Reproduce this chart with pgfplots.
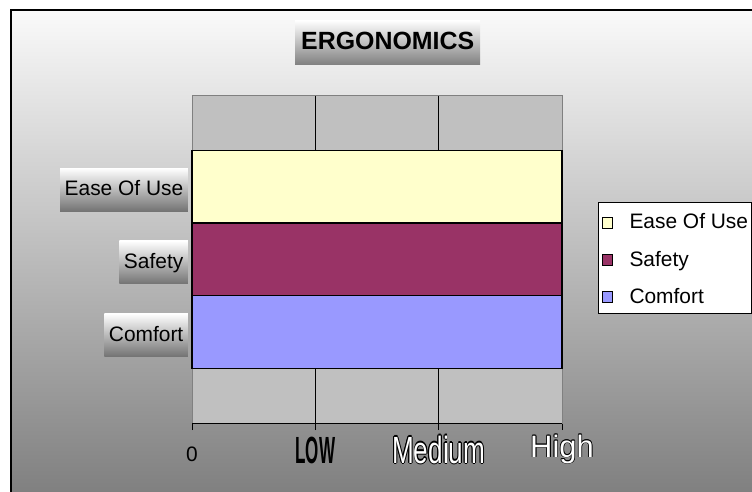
\documentclass[border=0pt]{standalone}
\usepackage{fontspec}
\setmainfont{Liberation Sans}
\usepackage{graphicx}
\usepackage{pgfplots}
\pgfplotsset{compat=1.18}
\definecolor{easec}{HTML}{FFFFCC}
\definecolor{safec}{HTML}{993366}
\definecolor{comfc}{HTML}{9999FF}
\definecolor{plotbg}{HTML}{C0C0C0}
\definecolor{bordc}{HTML}{808080}
\newcommand\olcopy[3]{\rlap{\raisebox{#2}{\kern#1\textcolor{black}{#3}}}}
% #1 fill colour, #2 straight offset, #3 diagonal offset, #4 text
\newcommand\outl[4][white]{\leavevmode
  \olcopy{#2}{0bp}{#4}\olcopy{-#2}{0bp}{#4}%
  \olcopy{0bp}{#2}{#4}\olcopy{0bp}{-#2}{#4}%
  \olcopy{#3}{#3}{#4}\olcopy{-#3}{#3}{#4}%
  \olcopy{#3}{-#3}{#4}\olcopy{-#3}{-#3}{#4}%
  \textcolor{#1}{#4}}
\pgfplotsset{
  legsq/.style={legend image code/.code={\draw[##1,draw=black,line width=1bp] (0bp,-7bp) rectangle (10bp,3bp);}},
  hbar/.style={xbar, bar width=1, bar shift=0pt, draw=black, line width=1.5bp, legsq},
}
\begin{document}
\begin{tikzpicture}
\useasboundingbox (0,0) rectangle (752bp,-492bp);
\fill[white] (0,0) rectangle (752bp,-492bp);
\shade[top color=white!98!black, bottom color=bordc] (11bp,-10bp) rectangle (752bp,-492bp);
\draw[black, line width=1.2bp] (11bp,-492bp) -- (11bp,-10bp) -- (752bp,-10bp);
\node[anchor=north west, top color=white, bottom color=bordc, inner xsep=6bp, inner ysep=0bp,
      text height=29.7bp, text depth=14.7bp, font=\fontsize{25}{30}\selectfont\bfseries]
      at (295bp,-20bp) {ERGONOMICS};
\begin{axis}[
  scale only axis,
  width=370bp, height=328bp,
  anchor=south west, at={(192bp,-423bp)},
  xmin=0, xmax=3, ymin=-1.25, ymax=3.26,
  clip=false,
  axis background/.style={fill=plotbg},
  axis line style={draw=bordc, line width=1bp},
  xmajorgrids, major grid style={black, line width=0.8bp},
  xtick={0,1,2,3},
  xticklabels={{\raisebox{2bp}{\fontsize{21}{25}\selectfont 0}},
               {\scalebox{0.45}[1]{\fontsize{38}{40}\selectfont\bfseries LOW}},
               {\scalebox{0.69}[1]{\outl{1.2bp}{0.85bp}{\fontsize{38}{40}\selectfont Medium}}},
               {\raisebox{6bp}{\outl{0.8bp}{0.56bp}{\fontsize{31}{35}\selectfont High}}}},
  xtick pos=bottom, tick align=outside, major tick length=7bp,
  xtick style={black, line width=0.8bp},
  xticklabel style={anchor=base, yshift=-33bp},
  ytick={0,1,2}, yticklabels={Comfort,Safety,Ease Of Use},
  ytick style={draw=none}, ytick pos=left,
  yticklabel style={anchor=east, xshift=3bp, yshift=-3bp, font=\fontsize{21}{25}\selectfont,
      top color=white, bottom color=bordc!90!black, inner xsep=4.5bp, inner ysep=0bp,
      text height=27.7bp, text depth=15.3bp},
  legend style={at={(1.0973,0.6738)}, anchor=north west, draw=black, line width=1bp, fill=white,
      font=\fontsize{21}{25}\selectfont, inner xsep=3bp, inner ysep=0bp,
      nodes={inner xsep=0bp, inner ysep=0bp, text height=26.5bp, text depth=10.5bp},
      /tikz/every odd column/.append style={column sep=17bp}},
  legend cell align=left,
  reverse legend,
]
\addplot[hbar, fill=comfc] coordinates {(3,0)};
\addlegendentry{Comfort}
\addplot[hbar, fill=safec] coordinates {(3,1)};
\addlegendentry{Safety}
\addplot[hbar, fill=easec] coordinates {(3,2)};
\addlegendentry{Ease Of Use}
\addplot[sharp plot, black, line width=1bp, forget plot] coordinates {(0,-1.25) (3,-1.25)};
\end{axis}
\end{tikzpicture}
\end{document}
